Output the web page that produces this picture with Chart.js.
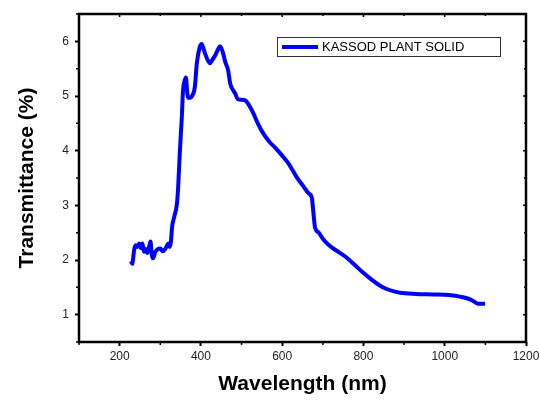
<!DOCTYPE html>
<html>
<head>
<meta charset="utf-8">
<script src="https://cdn.jsdelivr.net/npm/chart.js@4"></script>
<style>
  html, body { margin: 0; padding: 0; background: #fff; }
  #wrap { width: 540px; height: 402px; }
</style>
</head>
<body>
<div id="wrap"><canvas id="chart" width="540" height="402"></canvas></div>
<script>
// wavelength (nm) and transmittance (%)
const wavelength = [228, 231, 236, 240, 244, 248, 252, 256, 260, 264, 268, 272, 276, 279, 282, 288, 294, 300, 306, 312,
  317, 320, 323, 326, 329, 334, 341, 344, 348, 353, 356, 360, 363, 366, 368, 374, 378, 385, 390, 397,
  402, 407, 412, 422, 428, 435, 442, 447, 454, 460, 467, 472, 478, 484, 491, 500, 509, 516, 528, 540,
  553, 570, 582, 600, 614, 625, 636, 651, 665, 673, 677, 681, 690, 700, 711, 722, 740, 759, 780, 799,
  820, 841, 857, 873, 890, 930, 971, 1010, 1037, 1050, 1062, 1072, 1082, 1099];
const transmittance = [1.98, 1.93, 2.2, 2.27, 2.24, 2.3, 2.22, 2.3, 2.15, 2.2, 2.13, 2.22, 2.34, 2.1, 2.03, 2.15, 2.2, 2.21, 2.16, 2.2,
  2.27, 2.3, 2.24, 2.32, 2.6, 2.78, 3.03, 3.33, 3.95, 4.61, 5.1, 5.28, 5.34, 5.1, 4.97, 4.97, 5.0, 5.16, 5.6, 5.89,
  5.95, 5.85, 5.74, 5.6, 5.66, 5.74, 5.85, 5.91, 5.8, 5.62, 5.47, 5.23, 5.12, 5.05, 4.94, 4.93, 4.92, 4.86, 4.7, 4.5,
  4.32, 4.15, 4.06, 3.91, 3.78, 3.65, 3.51, 3.36, 3.22, 3.14, 2.85, 2.59, 2.5, 2.39, 2.3, 2.23, 2.14, 2.04, 1.9, 1.77,
  1.64, 1.53, 1.47, 1.43, 1.4, 1.38, 1.37, 1.36, 1.33, 1.31, 1.28, 1.24, 1.2, 1.2];
const seriesLabel = 'KASSOD PLANT SOLID';

const xTicks = [200, 400, 600, 800, 1000, 1200];
const xMinor = [100, 300, 500, 700, 900, 1100];
const yTicks = [1, 2, 3, 4, 5, 6];
const yMinor = [0.5, 1.5, 2.5, 3.5, 4.5, 5.5, 6.5];

// frame, minor ticks, mirrored ticks and the boxed legend
const frameAndLegend = {
  id: 'frameAndLegend',
  afterDraw(chart) {
    const { ctx, chartArea: a, scales: { x, y } } = chart;
    ctx.save();
    ctx.strokeStyle = '#000';
    ctx.lineWidth = 2.5;
    ctx.strokeRect(a.left, a.top, a.right - a.left, a.bottom - a.top);

    ctx.lineWidth = 1.5;
    ctx.beginPath();
    xMinor.forEach(v => {
      const px = x.getPixelForValue(v);
      ctx.moveTo(px, a.bottom); ctx.lineTo(px, a.bottom + 3);
      ctx.moveTo(px, a.top); ctx.lineTo(px, a.top + 2);
    });
    xTicks.forEach(v => {
      const px = x.getPixelForValue(v);
      ctx.moveTo(px, a.top); ctx.lineTo(px, a.top + 3);
    });
    yMinor.forEach(v => {
      const py = y.getPixelForValue(v);
      ctx.moveTo(a.left, py); ctx.lineTo(a.left - 3, py);
      ctx.moveTo(a.right, py); ctx.lineTo(a.right - 2, py);
    });
    yTicks.forEach(v => {
      const py = y.getPixelForValue(v);
      ctx.moveTo(a.right, py); ctx.lineTo(a.right - 3, py);
    });
    ctx.stroke();

    // legend box
    const bx = a.left + 198, by = a.top + 23, bw = 223, bh = 19;
    ctx.lineWidth = 1;
    ctx.strokeStyle = '#333';
    ctx.strokeRect(bx + 0.5, by + 0.5, bw, bh);
    ctx.strokeStyle = chart.data.datasets[0].borderColor;
    ctx.lineWidth = 4;
    ctx.beginPath();
    ctx.moveTo(bx + 5, by + bh / 2 + 0.5);
    ctx.lineTo(bx + 41, by + bh / 2 + 0.5);
    ctx.stroke();
    ctx.fillStyle = '#000';
    ctx.font = '13px "Liberation Sans", Arial, sans-serif';
    ctx.textBaseline = 'middle';
    ctx.fillText(chart.data.datasets[0].label, bx + 45, by + bh / 2 + 1);
    ctx.restore();
  }
};

new Chart(document.getElementById('chart'), {
  type: 'line',
  data: {
    datasets: [{
      label: seriesLabel,
      data: wavelength.map((w, i) => ({ x: w, y: transmittance[i] })),
      borderColor: '#0000ff',
      borderWidth: 4,
      pointRadius: 0,
      cubicInterpolationMode: 'monotone',
      fill: false
    }]
  },
  options: {
    responsive: false,
    animation: false,
    layout: { padding: { left: 0, top: 14, right: 14, bottom: 0 } },
    plugins: { legend: { display: false }, tooltip: { enabled: false } },
    scales: {
      x: {
        type: 'linear',
        min: 100,
        max: 1200,
        afterBuildTicks: s => { s.ticks = xTicks.map(v => ({ value: v })); },
        afterFit: s => { s.height = 60; s.paddingRight = 0; s.paddingLeft = 0; },
        grid: { drawOnChartArea: false, drawTicks: true, tickLength: 4, tickWidth: 2, color: '#000' },
        border: { display: false },
        ticks: {
          color: '#222', padding: 3, maxRotation: 0,
          font: { family: '"Liberation Sans", Arial', size: 12 },
          callback: v => String(v)
        },
        title: {
          display: true,
          text: 'Wavelength (nm)',
          color: '#000',
          padding: { top: 0, bottom: 5 },
          font: { family: '"Liberation Sans", Arial', size: 21, weight: 'bold' }
        }
      },
      y: {
        min: 0.5,
        max: 6.5,
        afterBuildTicks: s => { s.ticks = yTicks.map(v => ({ value: v })); },
        afterFit: s => { s.width = 79; },
        grid: { drawOnChartArea: false, drawTicks: true, tickLength: 4, tickWidth: 2, color: '#000' },
        border: { display: false },
        ticks: { color: '#222', padding: 6, font: { family: '"Liberation Sans", Arial', size: 12 } },
        title: {
          display: true,
          text: 'Transmittance (%)',
          color: '#000',
          padding: { top: 15, bottom: 0 },
          font: { family: '"Liberation Sans", Arial', size: 21, weight: 'bold' }
        }
      }
    }
  },
  plugins: [frameAndLegend]
});
</script>
</body>
</html>
